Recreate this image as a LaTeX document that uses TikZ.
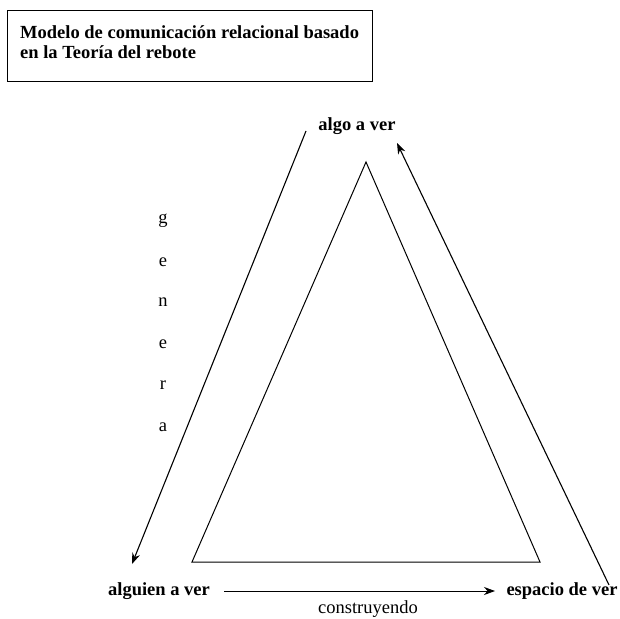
\documentclass[tikz,border=0pt]{standalone}
\usepackage{fontspec}
\setmainfont{Liberation Serif}
\usetikzlibrary{arrows.meta}
\begin{document}
\begin{tikzpicture}[x=1pt,y=-1pt,
  lbl/.style={font=\fontsize{18.5}{19.5}\selectfont\bfseries, inner sep=0pt},
  txt/.style={font=\fontsize{18.5}{19.5}\selectfont, inner sep=0pt},
  conn/.style={line width=1.1pt, -{Stealth[length=11pt,width=8pt]}},
  tri/.style={line width=1pt}]
\useasboundingbox (0,0) rectangle (620,618);
\fill[white] (0,0) rectangle (620,618);
% title box
\node[draw, line width=1.4pt, minimum width=365pt, minimum height=71pt, anchor=north west, inner sep=0pt] (box) at (7,10) {};
\node[lbl, anchor=west, align=left] (title) at (20,42) {Modelo de comunicación relacional basado\\en la Teoría del rebote};
% labels
\node[lbl] (algo) at (357,126) {algo a ver};
\node[lbl] (alguien) at (159,591) {alguien a ver};
\node[lbl] (espacio) at (562,591) {espacio de ver};
\node[txt] (constr) at (368,609) {construyendo};
% genera
\node[txt] (g1) at (163,221) {g};
\node[txt] (g2) at (163,262) {e};
\node[txt] (g3) at (163,302) {n};
\node[txt] (g4) at (163,344) {e};
\node[txt] (g5) at (163,385) {r};
\node[txt] (g6) at (163,427) {a};
% triangle
\coordinate (apex) at (366,162);
\coordinate (bl) at (192,562);
\coordinate (br) at (540,562);
\draw[tri] (apex) -- (bl) -- (br) -- cycle;
% arrows
\coordinate (la) at (306,131);
\coordinate (lb) at (132,564);
\draw[conn] (la) -- (lb);
\coordinate (ra) at (609,585);
\coordinate (rb) at (397,143);
\draw[conn] (ra) -- (rb);
\coordinate (ba) at (224,591);
\coordinate (bb) at (495,591);
\draw[conn, line width=0.8pt] (ba) -- (bb);
\end{tikzpicture}
\end{document}
